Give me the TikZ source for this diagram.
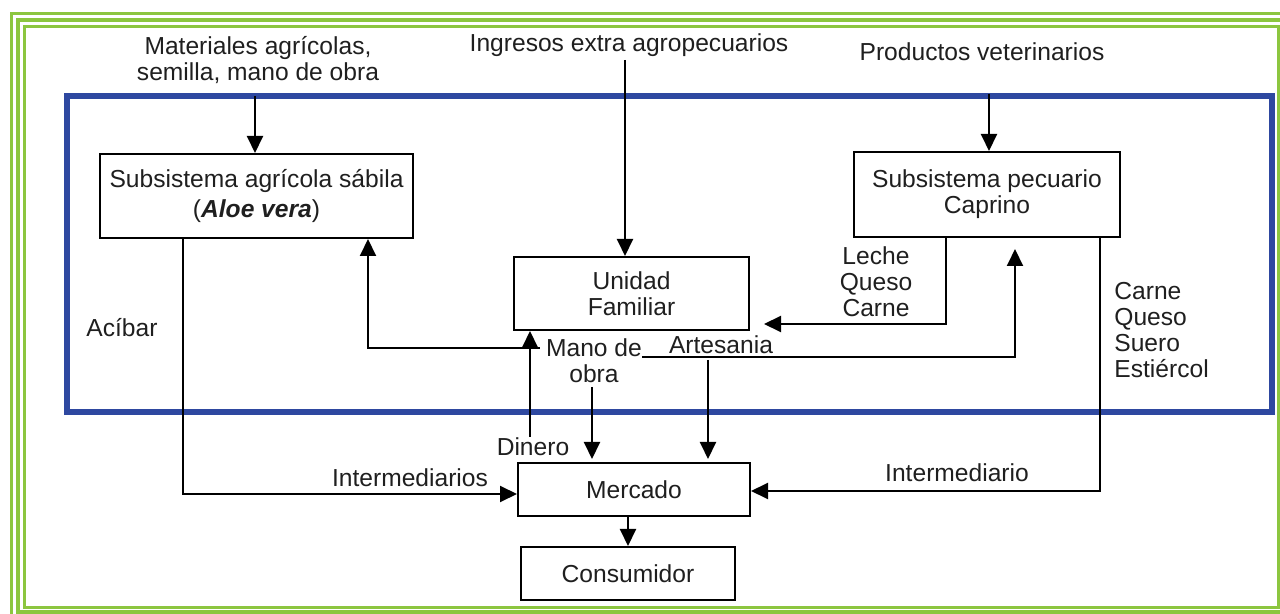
\documentclass[tikz,border=0pt]{standalone}
\usepackage{fontspec}
\setmainfont{Liberation Sans}
\usetikzlibrary{arrows.meta}
\definecolor{frameblue}{HTML}{2E48A0}
\definecolor{framegreen}{HTML}{8CC63F}
\newcommand\mainfs{\fontsize{12.3}{13}\selectfont}
\tikzset{
 box/.style={draw=black, line width=1pt, inner sep=0pt, align=center, font=\mainfs, text=black!88},
 lbl/.style={inner sep=0pt, align=center, font=\mainfs, text=black!88},
 conn/.style={draw=black, line width=1pt, -{Triangle[length=8.5pt,width=8pt]}},
}
\begin{document}
\begin{tikzpicture}[x=0.5pt,y=-0.5pt]
\useasboundingbox (0,0) rectangle (1280,614);
% green frames
\draw[framegreen, line width=1.5pt] (11,14) rectangle (1300,625);
\draw[framegreen, line width=2pt] (17.5,20) rectangle (1300,612);
\draw[framegreen, line width=1.5pt] (24,27) rectangle (1278,607);
% blue frame
\draw[frameblue, line width=3pt] (67,96) rectangle (1272,412);

% boxes
\node[box, minimum width=156.5pt, minimum height=42pt] (agri) at (256.5,196)
  {Subsistema agrícola sábila\\[2pt](\textbf{\textit{Aloe vera}})};
\node[box, minimum width=117.5pt, minimum height=36.5pt] (uf) at (631.5,293.5)
  {Unidad\\Familiar};
\node[box, minimum width=133pt, minimum height=42.5pt] (pec) at (987,194.5)
  {Subsistema pecuario\\Caprino};
\node[box, minimum width=116pt, minimum height=26.5pt] (merc) at (634,489.5) {Mercado};
\node[box, minimum width=107pt, minimum height=26.5pt] (cons) at (628,573.5) {Consumidor};

% labels
\node[lbl] (top1) at (258,60) {Materiales agrícolas,\\semilla, mano de obra};
\node[lbl] (top2) at (629,45) {Ingresos extra agropecuarios};
\node[lbl] (top3) at (982,52) {Productos veterinarios};
\node[lbl] (acibar) at (122,328) {Acíbar};
\node[lbl] (leche) at (876,281.5) {Leche\\Queso\\Carne};
\node[lbl, align=left, anchor=west] (carne) at (1114,330) {Carne\\Queso\\Suero\\Estiércol};
\node[lbl] (manode) at (594,361) {Mano de\\obra};
\node[lbl] (artes) at (721,345) {Artesania};
\node[lbl] (dinero) at (533,447) {Dinero};
\node[lbl] (interm1) at (410,478) {Intermediarios};
\node[lbl] (interm2) at (957,473) {Intermediario};

% coordinates
\coordinate (t1s) at (255,96);
\coordinate (t2s) at (625,60);
\coordinate (t3s) at (989,94);
\coordinate (a1) at (183,494);
\coordinate (p1) at (1100,491);
\coordinate (l1) at (946,324);
\coordinate (m1) at (368,348);
\coordinate (r0) at (642,357);
\coordinate (r1) at (1015,357);
\coordinate (d0) at (530,437);
\coordinate (mo0) at (592,387);
\coordinate (ar0) at (708,360);

% connectors
\draw[conn] (t1s) -- (t1s |- agri.north);
\draw[conn] (t2s) -- (t2s |- uf.north);
\draw[conn] (t3s) -- (t3s |- pec.north);
\draw[conn] (agri.south -| a1) -- (a1) -- (merc.west |- a1);
\draw[conn] (pec.south -| p1) -- (p1) -- (merc.east |- p1);
\draw[conn, shorten >=7pt] (pec.south -| l1) -- (l1) -- (uf.east |- l1);
\draw[conn] ([xshift=-3pt]manode.west |- m1) -- (m1) -- (agri.south -| m1);
\draw[conn, shorten >=5.5pt] (r0) -- (r1) -- (pec.south -| r1);
\draw[conn] (d0) -- (d0 |- uf.south);
\draw[conn, shorten >=1.5pt] (mo0) -- (mo0 |- merc.north);
\draw[conn, shorten >=1.5pt] (ar0) -- (ar0 |- merc.north);
\draw[conn] (merc.south -| cons.north) -- (cons.north);
\end{tikzpicture}
\end{document}
